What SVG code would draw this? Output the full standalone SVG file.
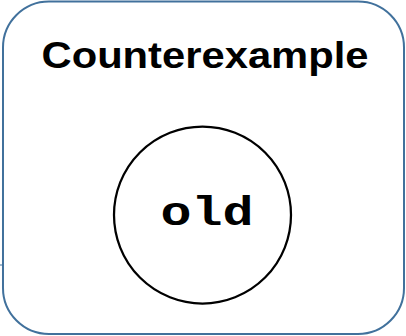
<svg xmlns="http://www.w3.org/2000/svg" width="406" height="336" viewBox="0 0 406 336">
<style>
.frame{fill:#ffffff;stroke:#41719c;stroke-width:2}
.node{fill:#ffffff;stroke:#000000;stroke-width:2.25}
.title{font-family:"Liberation Sans",Arial,sans-serif;font-weight:bold;font-size:36px;fill:#000000}
.code{font-family:"Liberation Mono","Courier New",monospace;font-weight:bold;font-size:40px;fill:#000000}
.conn{stroke:#41719c;stroke-width:1;fill:none}
</style>
<rect width="406" height="336" fill="#ffffff"/>
<g id="frame">
<rect class="frame" x="3" y="1.5" width="401" height="332.5" rx="46" ry="46"/>
<text class="title" x="205" y="68" text-anchor="middle" textLength="327" lengthAdjust="spacingAndGlyphs">Counterexample</text>
</g>
<g id="connectors">
<line class="conn" x1="0" y1="265" x2="3" y2="265"/>
</g>
<g id="node-old">
<circle class="node" cx="202.5" cy="215" r="88.5"/>
<text class="code" x="207" y="225" text-anchor="middle" textLength="93" lengthAdjust="spacingAndGlyphs">old</text>
</g>
</svg>
